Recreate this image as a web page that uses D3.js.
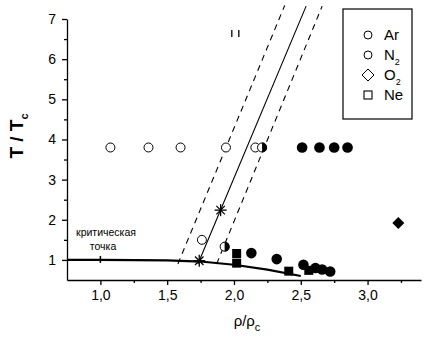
<!DOCTYPE html>
<html>
<head>
<meta charset="utf-8">
<script src="https://cdn.jsdelivr.net/npm/d3@7"></script>
<style>
  body { margin: 0; background: #fff; }
  text { font-family: "Liberation Sans", Arial, sans-serif; }
</style>
</head>
<body>
<svg id="chart" width="439" height="341"></svg>
<script>
// data, x = rho/rho_c, y = T/T_c
var arOpen = [[1.075, 3.8], [1.36, 3.8], [1.60, 3.8], [1.94, 3.8], [2.16, 3.8], [1.76, 1.5]];
var halfFilled = [[2.21, 3.8], [1.93, 1.33]];
var filledCircles = [[2.51, 3.8], [2.64, 3.8], [2.75, 3.8], [2.85, 3.8],
  [2.13, 1.17], [2.32, 1.02], [2.52, 0.88], [2.61, 0.8], [2.66, 0.76], [2.72, 0.71]];
var neSquares = [[2.02, 1.16], [2.02, 0.92], [2.41, 0.72], [2.56, 0.74]];
var o2Diamonds = [[3.23, 1.92]];
var oddMarks = [[2.01, 6.65]];
var stars = [[1.74, 0.98], [1.90, 2.24]];
var coexCurve = [[0.75, 1.0], [1.0, 1.0], [1.5, 0.99], [1.75, 0.96], [2.0, 0.88], [2.25, 0.76], [2.5, 0.6]];
var centerLine = [[1.73, 0.9], [2.54, 7.32]];
var dashLeft = [[1.58, 0.9], [2.38, 7.34]];
var dashRight = [[1.87, 0.9], [2.66, 7.32]];
var xTicks = [1.0, 1.5, 2.0, 2.5, 3.0];
var yTicks = [1, 2, 3, 4, 5, 6, 7];
var legendNames = ["Ar", "N", "O", "Ne"];
var legendSubs = ["", "2", "2", ""];

var svg = d3.select("#chart");
var x = d3.scaleLinear().domain([0.75, 3.4]).range([67, 421]);
var y = d3.scaleLinear().domain([0.5, 7]).range([280, 19]);

// axes
var fmt = function(d) { return d3.format(".1f")(d).replace(".", ","); };
svg.append("g").attr("transform", "translate(0,280)")
  .call(d3.axisBottom(x).tickValues(xTicks).tickFormat(fmt).tickSize(5).tickSizeOuter(0).tickPadding(5));
svg.append("g").attr("transform", "translate(0,280)")
  .call(d3.axisBottom(x).tickValues([1.25, 1.75, 2.25, 2.75, 3.25]).tickFormat("").tickSize(3).tickSizeOuter(0))
  .select(".domain").remove();
svg.append("g").attr("transform", "translate(67,0)")
  .call(d3.axisLeft(y).tickValues(yTicks).tickFormat(d3.format("d")).tickSize(5).tickSizeOuter(0).tickPadding(6));
svg.append("g").attr("transform", "translate(67,0)")
  .call(d3.axisLeft(y).tickValues([1.5, 2.5, 3.5, 4.5, 5.5, 6.5]).tickFormat("").tickSize(3).tickSizeOuter(0))
  .select(".domain").remove();
svg.selectAll(".tick text").attr("font-size", 14).attr("fill", "#000")
  .attr("font-family", "Liberation Sans, Arial, sans-serif");
svg.selectAll(".domain, .tick line").attr("stroke", "#000").attr("stroke-width", 1.3);

// axis titles
var yt = svg.append("text").attr("transform", "translate(23,136) rotate(-90)")
  .attr("text-anchor", "middle").attr("font-size", 19).attr("font-weight", "bold");
yt.append("tspan").text("T / T");
yt.append("tspan").attr("font-size", 11).attr("dy", 5).text("c");
var xt = svg.append("text").attr("x", 247).attr("y", 326).attr("text-anchor", "middle").attr("font-size", 15);
xt.append("tspan").text("\u03C1/\u03C1");
xt.append("tspan").attr("font-size", 11).attr("dy", 5).text("c");

var line = d3.line().x(function(d) { return x(d[0]); }).y(function(d) { return y(d[1]); });

svg.append("path").datum(coexCurve).attr("d", line).attr("fill", "none")
  .attr("stroke", "#000").attr("stroke-width", 2.2);
svg.append("path").datum(centerLine).attr("d", line).attr("fill", "none")
  .attr("stroke", "#000").attr("stroke-width", 1.1);
[dashLeft, dashRight].forEach(function(l) {
  svg.append("path").datum(l).attr("d", line).attr("fill", "none")
    .attr("stroke", "#000").attr("stroke-width", 1.1).attr("stroke-dasharray", "6,5");
});
// critical point mark
svg.append("line").attr("x1", x(1.0)).attr("x2", x(1.0)).attr("y1", y(1.0) - 4).attr("y2", y(1.0) + 3)
  .attr("stroke", "#000").attr("stroke-width", 1.5);

svg.append("text").attr("x", 106).attr("y", 236).attr("text-anchor", "middle").attr("font-size", 10.5).text("критическая");
svg.append("text").attr("x", 103).attr("y", 250).attr("text-anchor", "middle").attr("font-size", 10.5).text("точка");

// markers
svg.selectAll(".open").data(arOpen).enter().append("circle")
  .attr("cx", function(d) { return x(d[0]); }).attr("cy", function(d) { return y(d[1]); })
  .attr("r", 4.5).attr("fill", "#fff").attr("stroke", "#000").attr("stroke-width", 1);
var hf = svg.selectAll(".half").data(halfFilled).enter().append("g")
  .attr("transform", function(d) { return "translate(" + x(d[0]) + "," + y(d[1]) + ")"; });
hf.append("circle").attr("r", 4.5).attr("fill", "#fff").attr("stroke", "#000");
hf.append("path").attr("d", "M0,-5A5,5 0 0 1 0,5Z").attr("fill", "#000");
svg.selectAll(".filled").data(filledCircles).enter().append("circle")
  .attr("cx", function(d) { return x(d[0]); }).attr("cy", function(d) { return y(d[1]); })
  .attr("r", 5.3).attr("fill", "#000");
svg.selectAll(".sq").data(neSquares).enter().append("rect")
  .attr("x", function(d) { return x(d[0]) - 4.5; }).attr("y", function(d) { return y(d[1]) - 4.5; })
  .attr("width", 9).attr("height", 9).attr("fill", "#000");
svg.selectAll(".dia").data(o2Diamonds).enter().append("path")
  .attr("transform", function(d) { return "translate(" + x(d[0]) + "," + y(d[1]) + ")"; })
  .attr("d", "M0,-6L6,0L0,6L-6,0Z").attr("fill", "#000");
var om = svg.selectAll(".odd").data(oddMarks).enter().append("g")
  .attr("transform", function(d) { return "translate(" + x(d[0]) + "," + y(d[1]) + ")"; });
om.append("line").attr("x1", -3.5).attr("x2", -3.5).attr("y1", -3).attr("y2", 4).attr("stroke", "#000").attr("stroke-width", 1.3);
om.append("line").attr("x1", 3.5).attr("x2", 3.5).attr("y1", -3).attr("y2", 4).attr("stroke", "#000").attr("stroke-width", 1.3);
var st = svg.selectAll(".star").data(stars).enter().append("g")
  .attr("transform", function(d) { return "translate(" + x(d[0]) + "," + y(d[1]) + ")"; });
[0, 45, 90, 135].forEach(function(a) {
  st.append("line").attr("x1", -6).attr("x2", 6).attr("y1", 0).attr("y2", 0)
    .attr("transform", "rotate(" + a + ")").attr("stroke", "#000").attr("stroke-width", 1.3);
});

// legend
var lg = svg.append("g");
lg.append("rect").attr("x", 343).attr("y", 9).attr("width", 69).attr("height", 110)
  .attr("fill", "#fff").attr("stroke", "#000").attr("stroke-width", 1.2);
legendNames.forEach(function(n, i) {
  var cy = 35 + i * 20;
  if (i === 0 || i === 1) lg.append("circle").attr("cx", 368).attr("cy", cy).attr("r", 4).attr("fill", "#fff").attr("stroke", "#000");
  if (i === 2) lg.append("path").attr("d", "M368," + (cy - 6) + "l6,6l-6,6l-6,-6Z").attr("fill", "#fff").attr("stroke", "#000");
  if (i === 3) lg.append("rect").attr("x", 364).attr("y", cy - 4).attr("width", 8).attr("height", 8).attr("fill", "#fff").attr("stroke", "#000").attr("stroke-width", 1.1);
  var t = lg.append("text").attr("x", 384).attr("y", cy + 5).attr("font-size", 15);
  t.append("tspan").text(n);
  if (legendSubs[i]) t.append("tspan").attr("font-size", 9).attr("dy", 5).text(legendSubs[i]);
});
</script>
</body>
</html>
